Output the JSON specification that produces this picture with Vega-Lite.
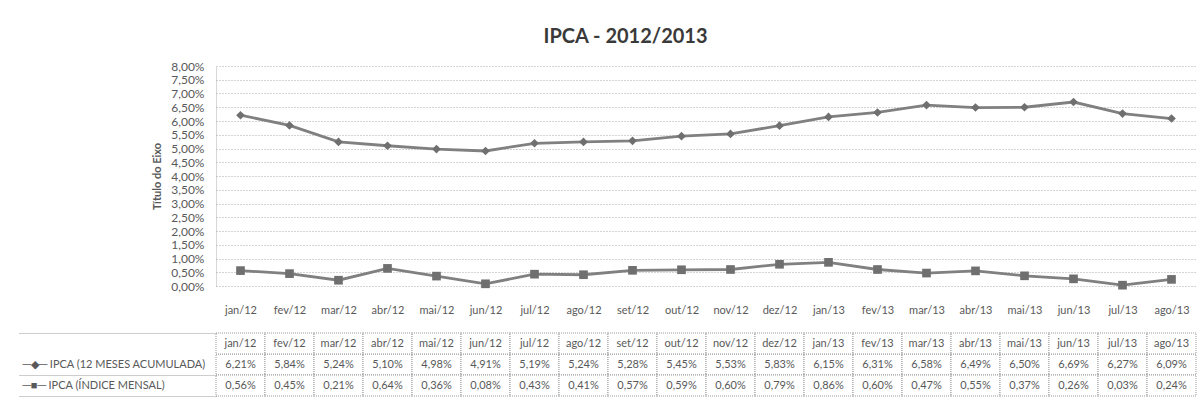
{
  "$schema": "https://vega.github.io/schema/vega-lite/v6.json",
  "background": "white",
  "padding": {"left": 18, "top": 27, "right": 2, "bottom": 4},
  "config": {
    "locale": {"number": {"decimal": ",", "thousands": ".", "grouping": [3], "currency": ["R$", ""], "percent": "%"}},
    "view": {"stroke": null},
    "font": "Lato",
    "concat": {"spacing": 12}
  },
  "title": {"text": "IPCA - 2012/2013", "anchor": "middle", "fontSize": 20, "font": "Lato", "fontWeight": "bold", "color": "#3a3a3a", "offset": 13, "dx": 18},
  "datasets": {
    "ipca": [
      {"mes": "jan/12", "acum": 0.0621, "mensal": 0.0056},
      {"mes": "fev/12", "acum": 0.0584, "mensal": 0.0045},
      {"mes": "mar/12", "acum": 0.0524, "mensal": 0.0021},
      {"mes": "abr/12", "acum": 0.0510, "mensal": 0.0064},
      {"mes": "mai/12", "acum": 0.0498, "mensal": 0.0036},
      {"mes": "jun/12", "acum": 0.0491, "mensal": 0.0008},
      {"mes": "jul/12", "acum": 0.0519, "mensal": 0.0043},
      {"mes": "ago/12", "acum": 0.0524, "mensal": 0.0041},
      {"mes": "set/12", "acum": 0.0528, "mensal": 0.0057},
      {"mes": "out/12", "acum": 0.0545, "mensal": 0.0059},
      {"mes": "nov/12", "acum": 0.0553, "mensal": 0.0060},
      {"mes": "dez/12", "acum": 0.0583, "mensal": 0.0079},
      {"mes": "jan/13", "acum": 0.0615, "mensal": 0.0086},
      {"mes": "fev/13", "acum": 0.0631, "mensal": 0.0060},
      {"mes": "mar/13", "acum": 0.0658, "mensal": 0.0047},
      {"mes": "abr/13", "acum": 0.0649, "mensal": 0.0055},
      {"mes": "mai/13", "acum": 0.0650, "mensal": 0.0037},
      {"mes": "jun/13", "acum": 0.0669, "mensal": 0.0026},
      {"mes": "jul/13", "acum": 0.0627, "mensal": 0.0003},
      {"mes": "ago/13", "acum": 0.0609, "mensal": 0.0024}
    ]
  },
  "vconcat": [
    {
      "width": 980,
      "height": 220,
      "data": {"name": "ipca"},
      "transform": [{"fold": ["acum", "mensal"], "as": ["serie", "valor"]}],
      "encoding": {
        "x": {
          "field": "mes", "type": "ordinal", "sort": null,
          "scale": {"type": "point", "padding": 0.5},
          "axis": {"title": null, "labelAngle": 0, "ticks": false, "domain": false, "grid": false, "labelPadding": 18, "labelFontSize": 11, "labelColor": "#595959", "labelFont": "Lato"}
        },
        "y": {
          "field": "valor", "type": "quantitative",
          "scale": {"domain": [0, 0.08], "nice": false},
          "axis": {"title": "Título do Eixo", "titleFontSize": 11, "titleFontWeight": "bold", "titleColor": "#595959", "titlePadding": 8, "format": ".2%", "values": [0, 0.005, 0.01, 0.015, 0.02, 0.025, 0.03, 0.035, 0.04, 0.045, 0.05, 0.055, 0.06, 0.065, 0.07, 0.075, 0.08], "labelOverlap": false, "labelFontSize": 12, "labelColor": "#595959", "labelPadding": 12, "ticks": false, "domain": true, "domainColor": "#b0b0b0", "domainDash": [1, 1], "grid": true, "gridColor": "#a8a8a8", "gridDash": [1, 2], "gridWidth": 1}
        }
      },
      "layer": [
        {
          "mark": {"type": "line", "color": "#808080", "strokeWidth": 2.8},
          "encoding": {"detail": {"field": "serie", "type": "nominal"}}
        },
        {
          "mark": {"type": "point", "filled": true, "color": "#6f6f6f", "opacity": 1, "size": 75},
          "encoding": {
            "shape": {"field": "serie", "type": "nominal", "scale": {"domain": ["acum", "mensal"], "range": ["diamond", "square"]}, "legend": null}
          }
        }
      ]
    },
    {
      "width": 980,
      "height": 63,
      "data": {"name": "ipca"},
      "encoding": {
        "x": {
          "field": "mes", "type": "ordinal", "sort": null,
          "scale": {"type": "band", "paddingInner": 0, "paddingOuter": 0},
          "axis": null
        }
      },
      "layer": [
        {
          "transform": [{"fold": ["acum", "mensal"], "as": ["serie", "valor"]}],
          "mark": {"type": "rect", "fill": "white", "stroke": "#9a9a9a", "strokeWidth": 1, "strokeDash": [1, 1]},
          "encoding": {
            "y": {
              "field": "serie", "type": "nominal",
              "scale": {"domain": ["h", "acum", "mensal"], "paddingInner": 0, "paddingOuter": 0},
              "axis": {
                "title": null, "domain": false, "grid": false, "ticks": true, "tickBand": "extent", "tickSize": 197,
                "tickColor": "#9a9a9a", "tickDash": [1, 1], "tickWidth": 1,
                "tickOpacity": {"condition": {"test": "datum.value === 'h'", "value": 0}, "value": 1},
                "labelAlign": "left", "labelPadding": -3, "labelOverlap": false, "labelBound": false, "labelLimit": 0,
                "labelFontSize": 11, "labelColor": "#595959", "labelFont": "Lato",
                "labelExpr": "datum.value === 'acum' ? '─◆─  IPCA (12 MESES ACUMULADA)' : datum.value === 'mensal' ? '─■─  IPCA (ÍNDICE MENSAL)' : ''"
              }
            }
          }
        },
        {
          "mark": {"type": "rect", "fill": "white", "stroke": "#9a9a9a", "strokeWidth": 1, "strokeDash": [1, 1]},
          "encoding": {"y": {"datum": "h", "type": "nominal"}}
        },
        {
          "mark": {"type": "text", "fontSize": 11, "color": "#595959", "font": "Lato"},
          "encoding": {"y": {"datum": "h", "type": "nominal"}, "text": {"field": "mes"}}
        },
        {
          "transform": [{"fold": ["acum", "mensal"], "as": ["serie", "valor"]}],
          "mark": {"type": "text", "fontSize": 11, "color": "#595959", "font": "Lato"},
          "encoding": {
            "y": {"field": "serie", "type": "nominal"},
            "text": {"field": "valor", "type": "quantitative", "format": ".2%"}
          }
        }
      ]
    }
  ]
}
